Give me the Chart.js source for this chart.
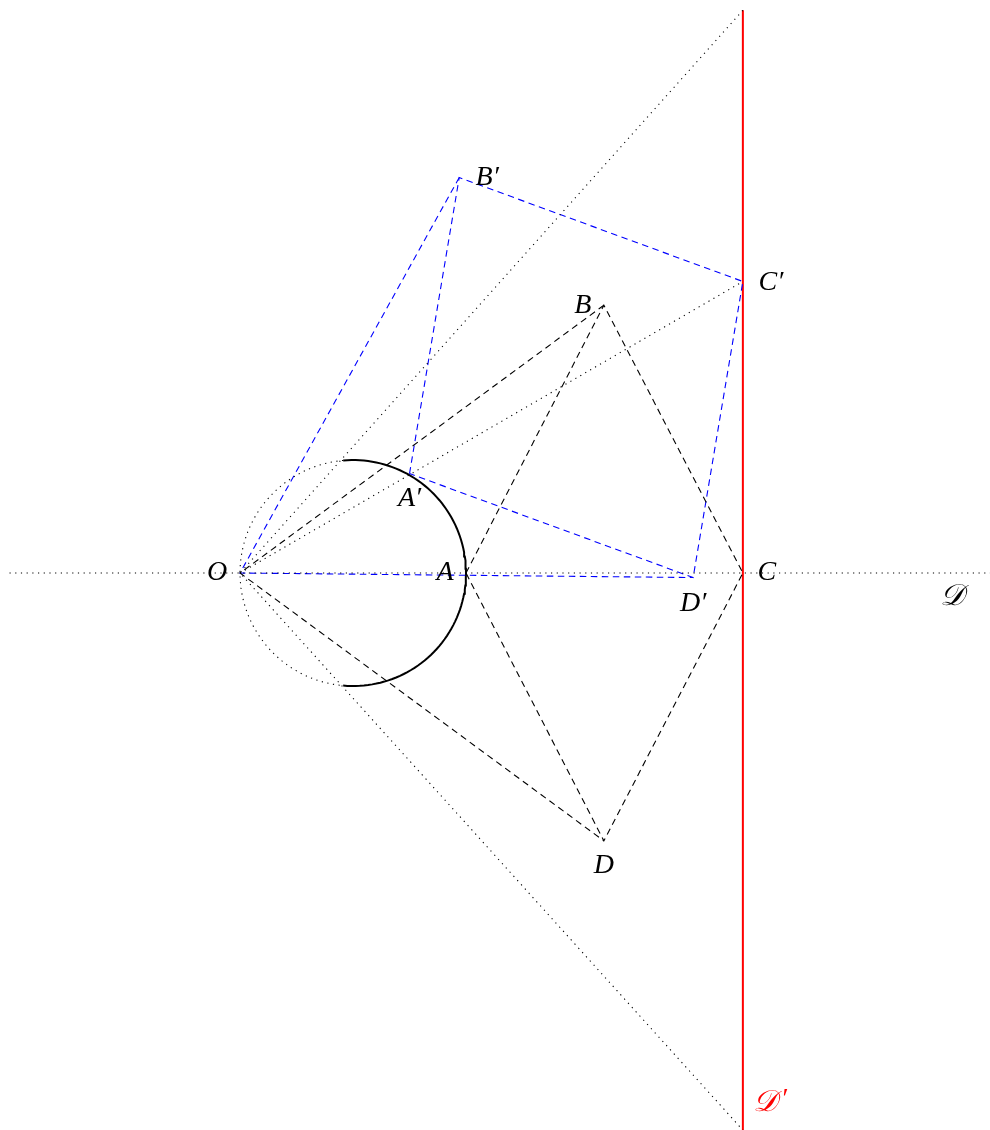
<!DOCTYPE html>
<html>
<head>
<meta charset="utf-8">
<script src="https://cdn.jsdelivr.net/npm/chart.js@4.4.0/dist/chart.umd.min.js"></script>
<style>
  html, body { margin: 0; padding: 0; background: #fff; }
  #wrap { width: 990px; height: 1130px; position: relative; }
</style>
</head>
<body>
<div id="wrap"><canvas id="myChart"></canvas></div>
<script>
// points of the linkage (unit = radius of the small circle)
const pointNames = ["O", "A", "B", "C", "D", "A′", "B′", "C′", "D′"];
const pointX = [0, 2, 3.22, 4.45, 3.22, 1.5, 1.94, 4.45, 4.01];
const pointY = [0, 0, 2.37, 0, -2.37, 0.88, 3.5, 2.58, -0.04];
// label offsets in px (dx, dy)
const labelDX = [-23, -21, -21, 24, 0, 0, 28, 28, 0];
const labelDY = [0, 0, 0, 0, 25, 25, 0, 1, 26];

// circle through O (centre, radius) and the line it maps onto
const circleCentre = [1, 0];
const circleRadius = 1;
const solidArcDeg = [-95, 95];
const lineX = 4.45;
const lineYRange = [-4.93, 4.98];
const axisXRange = [-2.04, 6.64];

// axis limits
const xLimits = [-2.124, 6.637];
const yLimits = [-4.929, 5.071];

const P = {};
pointNames.forEach((n, i) => { P[n] = { x: pointX[i], y: pointY[i] }; });

function arc(fromDeg, toDeg) {
  const pts = [];
  const n = 90;
  for (let i = 0; i <= n; i++) {
    const t = (fromDeg + (toDeg - fromDeg) * i / n) * Math.PI / 180;
    pts.push({ x: circleCentre[0] + circleRadius * Math.cos(t), y: circleCentre[1] + circleRadius * Math.sin(t) });
  }
  return pts;
}

const dotted = [1.2, 4.5];
const dashed = [6.5, 4.5];

function seg(data, color, width, dash) {
  return {
    data: data,
    showLine: true,
    borderColor: color,
    borderWidth: width,
    borderDash: dash,
    pointRadius: 0,
    fill: false,
    tension: 0,
    clip: false
  };
}

const datasets = [
  // dotted construction
  seg([{ x: axisXRange[0], y: 0 }, { x: axisXRange[1], y: 0 }], "#000", 1.1, dotted),
  seg([{ x: lineX, y: lineYRange[1] }, P["O"], { x: lineX, y: lineYRange[0] }], "#000", 1.1, dotted),
  seg([P["O"], P["C′"]], "#000", 1.1, dotted),
  seg(arc(solidArcDeg[1], 360 + solidArcDeg[0]), "#000", 1.1, dotted),
  // black linkage
  seg([P["B"], P["O"], P["D"]], "#000", 1.1, dashed),
  seg([P["A"], P["B"], P["C"], P["D"], P["A"]], "#000", 1.1, dashed),
  // blue linkage
  seg([P["B′"], P["O"], P["D′"]], "#0000ff", 1.1, dashed),
  seg([P["A′"], P["B′"], P["C′"], P["D′"], P["A′"]], "#0000ff", 1.1, dashed),
  // circle arc and the line
  seg(arc(solidArcDeg[0], solidArcDeg[1]), "#000", 2, []),
  seg([{ x: lineX, y: lineYRange[0] }, { x: lineX, y: lineYRange[1] }], "#ff0000", 2, [])
];

const labelsPlugin = {
  id: "pointLabels",
  afterDatasetsDraw(chart) {
    const ctx = chart.ctx;
    const xs = chart.scales.x, ys = chart.scales.y;
    ctx.save();
    ctx.textAlign = "center";
    ctx.textBaseline = "middle";
    ctx.fillStyle = "#000";
    ctx.font = "italic 28px 'Liberation Serif', 'DejaVu Serif', serif";
    pointNames.forEach((n, i) => {
      ctx.fillText(n, xs.getPixelForValue(pointX[i]) + labelDX[i], ys.getPixelForValue(pointY[i]) + labelDY[i]);
    });
    // script D labels
    ctx.textAlign = "left";
    ctx.font = "italic 30px 'DejaVu Serif', 'Noto Sans', serif";
    const dx1 = xs.getPixelForValue(axisXRange[1]) - 50;
    ctx.fillText("𝒟", dx1, ys.getPixelForValue(0) + 24);
    ctx.fillStyle = "#ff0000";
    const dx2 = xs.getPixelForValue(lineX) + 10;
    const dy2 = ys.getPixelForValue(lineYRange[0]) - 27;
    ctx.fillText("𝒟", dx2, dy2);
    ctx.font = "italic 28px 'Liberation Serif', serif";
    ctx.fillText("′", dx2 + 28, dy2 - 3);
    ctx.restore();
  }
};

new Chart(document.getElementById("myChart"), {
  type: "scatter",
  data: { datasets: datasets },
  options: {
    responsive: true,
    maintainAspectRatio: false,
    animation: false,
    layout: { padding: 0 },
    plugins: { legend: { display: false }, tooltip: { enabled: false } },
    scales: {
      x: { type: "linear", display: false, min: xLimits[0], max: xLimits[1] },
      y: { type: "linear", display: false, min: yLimits[0], max: yLimits[1] }
    }
  },
  plugins: [labelsPlugin]
});
</script>
</body>
</html>
